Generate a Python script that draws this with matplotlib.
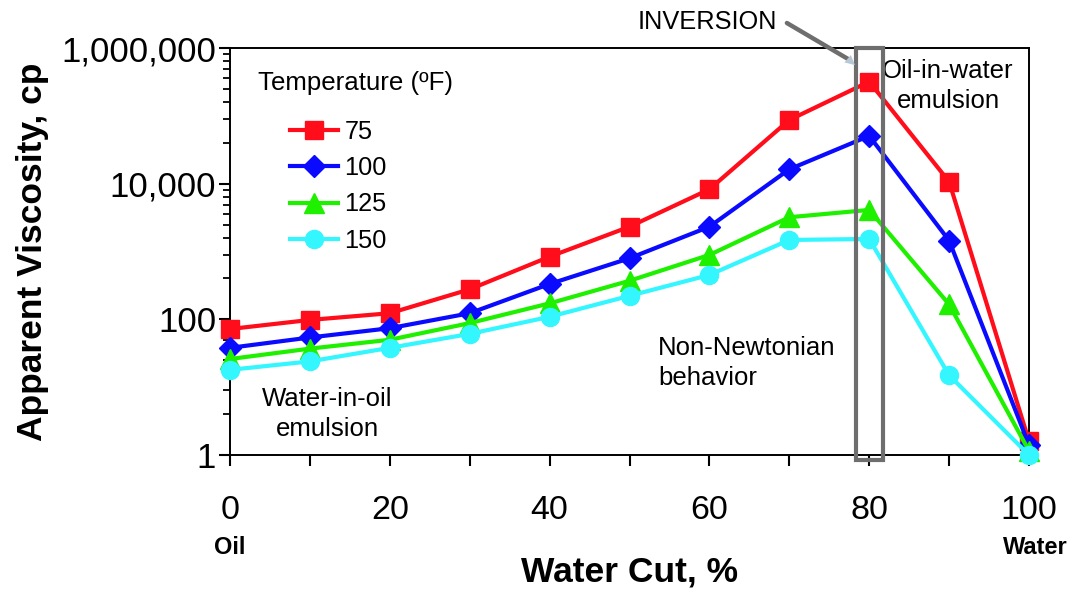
import matplotlib
matplotlib.use("Agg")
import matplotlib.pyplot as plt
from matplotlib.patches import Rectangle
from matplotlib.ticker import FixedLocator, LogLocator, FuncFormatter, NullFormatter
import matplotlib.transforms as mtransforms

plt.rcParams["font.family"] = ["Liberation Sans", "DejaVu Sans"]

water_cut = [0, 10, 20, 30, 40, 50, 60, 70, 80, 90, 100]
temps = ["75", "100", "125", "150"]
visc_75 = [72, 98, 123, 277, 838, 2320, 8260, 86900, 319000, 10700, 1.6]
visc_100 = [38, 54, 74, 123, 332, 795, 2320, 16300, 50600, 1450, 1.4]
visc_125 = [26, 37, 50, 88, 172, 370, 890, 3200, 4100, 166, 1.15]
visc_150 = [18, 24, 38, 61, 109, 222, 451, 1480, 1530, 15, 1.0]

series = [visc_75, visc_100, visc_125, visc_150]
colors = ["#ff0d1a", "#0a0aff", "#1ef000", "#33f6ff"]
markers = ["s", "D", "^", "o"]
msizes = [13, 11, 14, 13]

fig = plt.figure(figsize=(10.75, 5.9), dpi=100)
ax = fig.add_axes([230 / 1075, 1 - 455 / 590, 799 / 1075, 407 / 590])

for vals, c, m, ms, lab in zip(series, colors, markers, msizes, temps):
    ax.plot(water_cut, vals, color=c, marker=m, markersize=ms, linewidth=3,
            label=lab, clip_on=False, zorder=3)

ax.set_yscale("log")
ax.set_xlim(0, 100)
ax.set_ylim(1, 1e6)

ax.xaxis.set_major_locator(FixedLocator([0, 20, 40, 60, 80, 100]))
ax.xaxis.set_minor_locator(FixedLocator([10, 30, 50, 70, 90]))
ax.yaxis.set_major_locator(FixedLocator([1, 1e2, 1e4, 1e6]))
ax.yaxis.set_minor_locator(LogLocator(base=100, subs=[k * k for k in range(2, 10)]))
ax.yaxis.set_major_formatter(FuncFormatter(lambda v, p: f"{v:,.0f}"))
ax.yaxis.set_minor_formatter(NullFormatter())

ax.tick_params(axis="x", which="both", direction="out", length=8, width=1.5,
               labelsize=24.5, pad=21)
ax.tick_params(axis="y", which="major", direction="out", length=8, width=1.5,
               labelsize=25, pad=2)
ax.tick_params(axis="y", which="minor", direction="out", length=5, width=1.3)
for s in ax.spines.values():
    s.set_linewidth(1.4)

ax.set_xlabel("Water Cut, %", fontsize=25.5, fontweight="bold")
ax.xaxis.set_label_coords(0.5, -0.2875)
ax.xaxis.label.set_verticalalignment("center")
ax.set_ylabel("Apparent Viscosity, cp", fontsize=25.5, fontweight="bold")
ax.yaxis.set_label_coords(-0.2478, 0.5)
ax.yaxis.label.set_verticalalignment("center")

ax.text(0, -0.2285, "Oil", transform=ax.transAxes, ha="center", va="center",
        fontsize=17, fontweight="bold")
ax.text(1.0075, -0.2285, "Water", transform=ax.transAxes, ha="center", va="center",
        fontsize=17, fontweight="bold")

# legend
ax.text(0.035, 0.914, "Temperature (ºF)", transform=ax.transAxes, ha="left",
        va="center", fontsize=18.6)
ax.legend(loc="upper left", bbox_to_anchor=(0.075, 0.823), frameon=False,
          fontsize=18.3, handlelength=1.9, handletextpad=0.25, labelspacing=0.48,
          borderpad=0, borderaxespad=0)

# region labels
ax.text(0.8986, 0.9066, "Oil-in-water\nemulsion", transform=ax.transAxes,
        ha="center", va="center", fontsize=18.5, linespacing=1.32)
ax.text(0.5357, 0.226, "Non-Newtonian\nbehavior", transform=ax.transAxes,
        ha="left", va="center", fontsize=18.5, linespacing=1.32)
ax.text(0.1214, 0.1007, "Water-in-oil\nemulsion", transform=ax.transAxes,
        ha="center", va="center", fontsize=18.5, linespacing=1.32)

# inversion box
trans = mtransforms.blended_transform_factory(ax.transData, ax.transAxes)
ax.add_patch(Rectangle((78.3, -0.012), 3.4, 1.012, transform=trans, fill=False,
                       edgecolor="#6e6e6e", linewidth=3, clip_on=False, zorder=4))

ax.text(0.597, 1.064, "INVERSION", transform=ax.transAxes, ha="center",
        va="center", fontsize=18.3)
ax.annotate("", xy=(0.7735, 0.973), xycoords="axes fraction",
            xytext=(0.697, 1.0614), textcoords="axes fraction",
            arrowprops=dict(arrowstyle="-", color="#6e6e6e", lw=3.2,
                            shrinkA=0, shrinkB=0))
ax.annotate("", xy=(0.7822, 0.958), xycoords="axes fraction",
            xytext=(0.769, 0.9805), textcoords="axes fraction",
            arrowprops=dict(arrowstyle="-|>,head_length=0.7,head_width=0.35",
                            fc="#b7c7d3", ec="none", lw=0, shrinkA=0, shrinkB=0),
            zorder=5)

fig.savefig("out.png", dpi=100)
